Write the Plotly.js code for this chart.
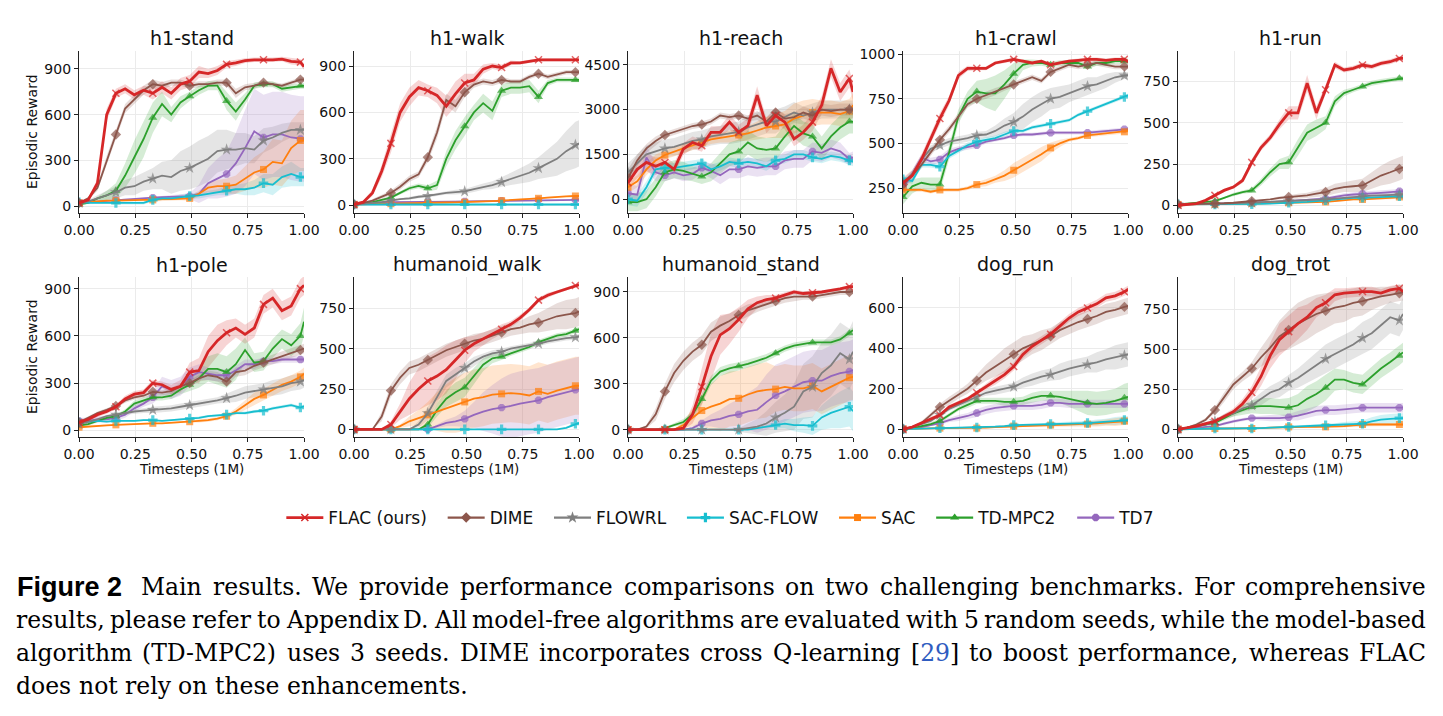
<!DOCTYPE html>
<html>
<head>
<meta charset="utf-8">
<script src="https://cdn.plot.ly/plotly-3.0.1.min.js"></script>
<style>
  html, body { margin: 0; padding: 0; background: #fff; }
  #chart { width: 1443px; height: 716px; }
</style>
</head>
<body>
<div id="chart"></div>
<script>
// ---------------- DATA ----------------
const X = [0,0.041,0.082,0.123,0.164,0.205,0.246,0.287,0.328,0.369,0.41,0.451,0.492,0.533,0.574,0.615,0.656,0.697,0.738,0.779,0.82,0.861,0.902,0.943,0.984,1];
const SERIES = ['FLAC (ours)','DIME','FLOWRL','SAC-FLOW','SAC','TD-MPC2','TD7'];
const TASKS = ['h1-stand','h1-walk','h1-reach','h1-crawl','h1-run','h1-pole','humanoid_walk','humanoid_stand','dog_run','dog_trot'];
const X_TICKS = [0,0.25,0.5,0.75,1];
const X_TICK_LABELS = ['0.00','0.25','0.50','0.75','1.00'];
const Y_TICKS = [[0,300,600,900],[0,300,600,900],[0,1500,3000,4500],[250,500,750,1000],[0,250,500,750],
                 [0,300,600,900],[0,250,500,750],[0,300,600,900],[0,200,400,600],[0,250,500,750]];

// series order in each task: FLAC, DIME, FLOWRL, SAC-FLOW, SAC, TD-MPC2, TD7
const h1_stand = [
 [20,40,150,600,740,770,730,760,740,780,740,800,820,880,870,890,930,940,955,960,960,960,965,950,945,915],
 [20,50,120,300,470,640,700,760,800,790,810,810,790,800,800,810,810,740,780,790,810,800,790,810,830,830],
 [20,30,50,70,90,120,130,160,180,200,190,230,250,280,310,360,370,370,380,370,430,450,480,500,500,500],
 [25,20,20,20,20,20,20,20,40,50,50,60,65,70,80,90,100,110,110,120,150,140,190,210,190,190],
 [20,25,30,35,35,38,40,40,40,45,45,48,50,80,120,130,130,140,180,220,240,290,280,380,430,430],
 [10,20,50,70,100,200,320,440,580,670,600,680,720,760,790,790,690,620,700,790,800,800,770,780,790,790],
 [20,25,30,35,40,42,45,50,55,58,60,62,65,80,150,180,210,280,380,490,450,470,470,450,440,440]];
const h1_stand_sd = [
 [5,10,30,40,30,30,30,30,40,40,40,40,40,40,30,30,20,20,15,15,15,15,15,20,20,20],
 [5,10,20,30,30,30,30,30,30,25,20,20,20,20,20,20,20,30,20,20,15,15,15,15,15,15],
 [5,10,20,30,40,50,60,60,70,90,110,130,140,150,150,140,130,110,100,90,80,70,60,50,50,50],
 [5,5,5,5,10,10,10,10,10,10,10,15,15,20,20,20,30,30,40,50,60,70,70,80,60,60],
 [5,5,5,5,5,5,5,5,10,10,10,10,15,20,30,40,50,60,80,100,120,150,150,180,200,200],
 [5,5,10,30,50,80,110,120,100,80,50,40,30,30,30,30,60,60,40,20,20,20,20,20,20,20],
 [5,5,5,5,5,5,5,5,5,10,10,15,20,60,100,130,150,200,250,280,280,280,280,280,280,280]];

const h1_walk = [
 [5,20,80,220,400,600,700,760,740,710,640,720,790,810,880,900,890,920,920,930,940,940,940,940,940,940],
 [5,15,30,55,80,120,170,200,310,470,680,640,730,780,800,790,810,800,800,830,850,830,845,860,860,860],
 [5,10,15,20,30,40,45,55,60,70,80,85,90,105,120,130,150,170,190,210,240,270,300,350,390,400],
 [5,5,5,5,5,5,5,5,5,5,5,5,5,5,5,5,5,5,5,5,5,5,5,5,5,5],
 [5,8,10,10,10,12,12,14,15,16,18,19,20,22,24,27,30,33,37,40,45,50,55,58,60,60],
 [5,10,20,35,50,80,110,125,110,130,300,420,510,600,660,610,740,760,760,770,700,790,810,810,810,810],
 [5,10,15,18,20,20,20,20,20,22,23,24,25,26,28,29,30,32,33,34,35,35,35,35,35,35]];
const h1_walk_sd = [
 [5,10,20,40,60,60,60,50,40,50,70,80,60,40,30,20,20,15,10,10,10,10,10,10,10,10],
 [5,5,10,10,15,20,20,20,30,40,40,40,30,20,20,20,20,15,15,15,15,15,15,15,15,15],
 [3,5,5,5,5,5,10,10,10,10,10,15,15,20,20,25,30,40,50,60,70,90,110,130,150,150],
 [3,3,3,3,3,3,3,3,3,3,3,3,3,3,3,3,3,3,3,3,3,3,3,3,3,3],
 [5,5,5,5,5,5,5,5,5,5,5,5,5,5,5,5,5,5,5,5,5,5,5,5,5,5],
 [5,5,5,10,10,10,15,15,20,30,50,60,60,50,60,60,40,40,40,40,40,20,15,15,15,15],
 [5,5,5,5,5,5,5,5,5,5,5,5,5,5,5,5,5,5,5,5,5,5,5,5,5,5]];

const h1_reach = [
 [550,1000,1230,1100,1230,1000,1680,1900,1790,2240,2240,2580,2240,2460,3480,2460,2800,2580,2020,2240,2580,3150,4380,3590,4040,3590],
 [700,1300,1700,1950,2150,2250,2350,2450,2500,2600,2800,2750,2800,2700,2800,2600,2900,2700,2750,2900,2800,3000,2950,3000,3000,3000],
 [900,1200,1500,1600,1700,1750,1850,1950,2000,2100,2150,2200,2250,2400,2500,2600,2600,2750,2900,2800,2900,3000,3000,3000,3000,3000],
 [0,-50,400,1000,1050,1050,1100,1150,1200,1000,1100,1250,1200,1250,1200,1100,1300,1350,1500,1500,1400,1350,1450,1400,1300,1250],
 [400,600,1000,1300,1480,1600,1700,1800,1900,2000,2050,2100,2150,2200,2300,2400,2450,2500,2700,2800,2900,2900,2900,2850,2950,3150],
 [-100,-100,0,400,900,1000,950,850,760,900,1200,1500,1600,1900,1700,1650,1700,2100,2450,2200,2100,1700,2100,2400,2600,2600],
 [200,150,1400,900,800,900,800,850,1050,950,800,1000,1000,1100,1050,1100,1100,1300,1350,1350,1600,1550,1700,1600,1350,1400]];
const h1_reach_sd = [
 [200,300,300,300,200,200,200,200,200,200,200,250,250,250,300,250,250,250,250,250,300,300,300,300,300,300],
 [300,200,150,150,100,100,100,100,100,100,100,100,100,100,150,150,150,150,150,200,200,200,200,200,200,200],
 [300,300,300,300,300,300,300,300,300,300,300,350,350,400,400,400,400,350,350,300,300,300,300,300,300,300],
 [200,200,200,150,150,150,150,150,150,150,150,150,150,150,150,150,150,150,150,150,150,150,150,150,150,150],
 [200,200,200,200,150,150,150,150,150,150,150,200,200,250,300,350,400,450,500,500,450,400,400,400,400,400],
 [300,300,300,300,300,300,300,250,250,300,350,400,400,400,400,400,400,400,400,400,400,400,400,400,400,400],
 [300,300,400,300,200,200,200,200,200,250,300,300,300,300,300,300,300,300,300,300,300,300,300,300,200,200]];

const h1_crawl = [
 [280,320,410,530,640,740,880,920,920,920,950,960,970,960,950,960,940,950,960,965,970,970,965,970,970,960],
 [270,320,380,450,520,580,650,720,750,770,790,810,830,850,870,850,900,920,940,930,940,950,940,930,930,930],
 [280,330,410,470,490,510,520,530,545,550,570,600,620,650,690,720,750,760,780,800,820,830,850,870,880,880],
 [300,290,380,380,370,430,460,490,510,520,530,550,570,570,590,600,610,620,630,660,680,700,720,740,760,770],
 [240,240,240,230,240,240,240,250,270,280,300,320,350,380,410,440,475,500,520,530,545,550,555,560,565,570],
 [200,260,280,270,270,450,650,750,790,780,780,830,890,940,950,950,940,950,950,950,930,950,950,960,960,960],
 [250,330,420,400,410,450,470,480,490,510,520,530,545,550,550,555,560,560,560,560,560,565,570,575,580,580]];
const h1_crawl_sd = [
 [30,30,30,30,30,25,20,15,10,10,10,10,10,10,10,10,10,10,10,10,10,10,10,10,10,10],
 [20,20,20,20,20,20,20,20,20,20,20,15,15,15,15,15,15,15,15,15,15,15,15,15,15,15],
 [20,20,20,20,20,20,20,20,20,20,30,40,50,70,70,70,60,60,50,50,50,40,40,30,20,20],
 [15,15,15,15,15,15,15,15,15,15,15,15,10,10,10,10,10,10,10,10,10,10,10,10,10,10],
 [10,10,10,10,10,10,10,10,15,20,20,30,40,40,40,40,30,20,10,10,10,10,10,10,10,10],
 [40,40,30,40,40,40,40,40,60,80,100,80,60,30,20,15,15,15,15,15,15,15,15,15,15,15],
 [20,20,20,20,20,20,15,15,15,10,10,10,10,10,10,10,10,10,10,10,10,10,10,10,10,10]];

const h1_run = [
 [0,5,10,30,60,90,110,150,260,350,410,490,560,560,740,560,700,850,820,830,850,840,860,870,890,890],
 [5,5,8,10,10,12,15,20,25,30,35,45,50,55,60,70,80,100,110,115,120,150,180,200,220,230],
 [5,5,5,6,8,10,12,14,16,18,20,22,25,28,30,33,36,40,45,50,55,58,60,62,65,65],
 [5,5,5,5,5,5,5,6,6,8,10,12,15,18,20,25,30,35,40,45,45,48,50,52,55,55],
 [5,5,5,5,5,5,6,8,10,12,13,14,15,16,17,18,20,25,30,35,35,40,42,45,50,50],
 [5,10,15,20,25,45,65,80,90,140,200,250,260,350,440,470,500,630,680,700,720,740,750,760,770,770],
 [5,5,6,8,10,11,12,14,15,17,19,22,25,28,32,36,40,50,60,65,70,72,75,80,85,85]];
const h1_run_sd = [
 [5,5,5,10,10,10,10,15,20,20,20,30,40,40,50,40,30,20,15,15,15,15,15,15,15,15],
 [3,3,3,3,3,3,3,5,5,5,5,10,10,15,15,20,25,30,30,35,40,50,60,70,70,70],
 [3,3,3,3,3,3,3,3,5,5,5,5,5,5,8,8,8,10,10,10,12,12,12,15,15,15],
 [3,3,3,3,3,3,3,3,3,3,3,3,5,5,5,5,5,5,5,5,5,5,5,5,5,5],
 [3,3,3,3,3,3,3,3,3,3,3,3,3,3,5,5,5,5,5,5,5,5,5,8,8,8],
 [3,3,3,5,5,5,10,10,15,20,25,30,40,50,50,50,40,30,20,15,15,15,15,15,15,15],
 [3,3,3,3,3,3,3,3,5,5,5,5,5,8,8,8,10,10,12,15,15,15,15,15,15,15]];

const h1_pole = [
 [50,70,100,120,150,200,230,240,300,290,260,280,370,380,500,570,620,650,610,650,800,840,760,790,900,920],
 [50,80,110,130,155,190,210,220,245,240,250,280,300,330,350,340,310,370,380,410,430,450,470,490,510,520],
 [40,55,70,90,100,110,120,125,130,135,140,150,160,170,180,190,205,220,240,250,260,270,280,300,310,320],
 [50,55,60,55,60,60,60,65,65,60,65,70,75,80,90,95,100,110,110,120,125,140,150,160,145,155],
 [20,25,30,32,35,38,40,42,45,45,48,50,55,60,65,75,90,120,160,200,225,260,290,310,340,360],
 [30,40,60,80,90,120,170,190,210,210,220,260,290,330,390,390,370,420,510,430,440,520,580,540,600,690],
 [60,60,70,70,80,100,140,170,210,280,260,280,340,370,360,350,350,380,420,420,440,440,450,450,450,450]];
const h1_pole_sd = [
 [15,15,15,15,15,20,20,20,20,20,30,40,60,80,100,100,80,60,60,60,60,60,60,60,60,60],
 [10,10,10,10,10,15,15,15,15,15,20,20,20,20,30,30,30,30,30,30,30,30,30,30,30,30],
 [10,10,10,10,10,10,15,15,20,20,20,20,20,20,20,20,30,40,40,40,40,50,50,50,50,50],
 [5,5,5,5,5,5,5,5,5,5,5,5,8,8,8,8,8,8,10,10,10,10,10,10,10,10],
 [5,5,5,5,5,5,5,5,5,5,5,5,5,10,10,10,10,20,30,40,40,40,40,40,40,40],
 [10,10,10,10,10,15,20,20,20,20,20,30,40,60,80,100,100,100,80,60,60,60,60,70,80,90],
 [20,20,20,20,20,20,20,20,40,60,60,60,60,50,40,40,40,30,30,30,20,20,20,20,20,20]];

const humanoid_walk = [
 [0,0,0,0,30,110,190,250,300,330,370,430,490,530,560,590,620,650,690,740,800,830,850,870,890,895],
 [0,0,0,80,240,320,380,400,430,460,490,510,530,550,560,580,600,620,630,650,660,680,700,710,720,730],
 [0,0,0,0,0,0,0,30,100,200,300,340,380,420,450,470,480,500,510,520,530,545,555,565,570,575],
 [0,0,0,0,0,0,0,0,0,0,0,0,0,0,0,0,0,0,0,0,0,0,0,10,35,40],
 [0,0,0,0,0,20,50,70,90,110,130,150,170,190,200,215,220,225,220,210,235,220,240,255,270,270],
 [0,0,0,0,0,0,0,0,30,120,190,230,260,330,400,440,450,470,490,510,540,560,580,590,610,620],
 [0,0,0,0,0,0,0,0,0,20,40,50,65,90,110,125,135,145,160,170,180,200,215,230,245,250]];
const humanoid_walk_sd = [
 [0,0,0,0,20,50,100,130,150,150,150,120,80,50,40,30,30,20,20,15,15,15,10,10,10,10],
 [0,0,0,30,40,40,40,40,40,40,40,40,40,40,40,40,40,40,40,50,60,70,80,90,90,90],
 [0,0,0,0,0,0,0,20,40,40,40,40,30,30,20,20,20,15,15,15,15,15,15,15,15,15],
 [0,0,0,0,0,0,0,0,0,0,0,0,0,0,0,0,0,0,0,0,0,0,0,5,10,10],
 [0,0,0,0,0,10,30,50,80,120,150,170,180,180,180,180,180,180,180,180,180,180,180,180,180,180],
 [0,0,0,0,0,0,0,0,20,40,50,60,60,50,40,30,20,15,15,15,15,15,15,15,15,15],
 [0,0,0,0,0,0,0,0,0,10,20,30,50,80,120,150,180,200,200,200,200,200,200,200,200,200]];

const humanoid_stand = [
 [0,0,0,0,0,0,10,100,280,480,620,660,720,790,830,850,860,880,900,890,895,900,910,920,935,935],
 [0,0,20,100,250,370,450,510,555,640,680,710,750,780,800,820,840,860,870,870,870,880,890,900,900,905],
 [0,0,0,0,0,0,0,0,0,0,0,0,0,10,20,40,80,110,150,250,280,370,420,500,460,510],
 [0,0,0,0,0,0,0,0,0,0,0,0,0,0,10,20,30,40,30,30,25,80,110,130,150,120],
 [0,0,0,0,0,0,30,80,125,150,170,200,205,230,250,260,265,280,270,270,285,250,280,310,340,345],
 [0,0,0,0,10,30,50,100,200,320,380,400,415,430,450,470,500,530,550,560,570,570,570,590,630,650],
 [0,0,0,0,0,0,0,10,40,60,70,90,100,120,130,180,225,250,280,310,320,320,350,370,380,390]];
const humanoid_stand_sd = [
 [0,0,0,0,0,0,10,60,120,150,130,100,80,60,40,30,20,20,15,15,15,10,10,10,10,10],
 [0,0,10,40,50,60,60,60,60,60,60,50,40,40,30,30,30,30,30,20,20,20,20,20,20,20],
 [0,0,0,0,0,0,0,0,0,0,0,5,10,30,50,80,100,120,150,180,200,200,200,200,200,200],
 [0,0,0,0,0,0,0,0,0,0,0,0,0,0,0,10,20,30,40,50,60,80,100,120,130,130],
 [0,0,0,0,0,0,20,60,100,150,180,180,180,180,180,180,150,150,150,150,150,150,150,150,150,150],
 [0,0,0,0,5,10,20,20,30,30,30,30,25,25,25,25,25,20,20,20,20,20,20,20,20,20],
 [0,0,0,0,0,0,0,10,20,40,60,80,100,120,150,180,200,200,200,200,200,200,200,200,200,200]];

const dog_run = [
 [0,10,30,50,70,110,130,150,180,210,240,270,310,370,410,440,470,510,550,580,600,620,650,660,680,690],
 [0,10,30,70,110,140,170,200,240,280,310,340,370,400,420,440,460,490,510,530,545,560,580,590,605,610],
 [0,10,25,40,70,100,120,140,160,180,190,200,210,230,245,260,270,285,300,310,320,330,345,355,365,370],
 [0,2,3,4,5,6,7,7,8,10,12,15,20,21,22,23,25,27,28,29,30,33,36,40,45,45],
 [0,2,3,4,5,5,5,5,5,8,10,12,15,16,17,18,20,21,22,23,25,28,32,36,40,40],
 [0,5,15,25,40,70,100,120,140,140,140,135,135,140,155,165,165,160,150,140,130,125,130,140,155,160],
 [0,5,10,20,30,45,55,65,80,95,105,110,115,115,115,120,130,130,125,125,125,125,125,125,125,125]];
const dog_run_sd = [
 [5,5,5,10,10,10,10,10,10,15,20,20,20,20,20,20,20,20,20,20,20,20,20,20,20,20],
 [5,5,10,10,15,20,20,25,30,40,50,60,60,60,50,50,40,40,40,40,40,40,40,40,40,40],
 [5,5,5,5,10,10,10,10,10,15,20,20,20,25,30,30,30,40,40,40,40,50,50,60,60,60],
 [2,2,2,2,3,3,3,3,3,5,5,5,5,5,5,5,8,8,10,10,12,15,15,20,20,20],
 [2,2,2,2,3,3,3,3,3,5,5,5,5,5,5,5,8,8,10,10,12,15,15,20,20,20],
 [5,5,5,10,10,10,10,15,15,15,15,20,20,20,25,25,25,30,40,50,60,60,60,60,70,70],
 [5,5,5,5,10,10,15,15,20,20,20,20,20,20,20,20,20,20,20,20,20,20,20,20,20,20]];

const dog_trot = [
 [0,10,20,35,50,80,110,160,230,330,460,560,610,660,700,760,790,840,850,855,860,860,850,870,880,860],
 [0,10,30,60,120,200,280,330,380,450,510,580,620,660,690,720,740,760,770,790,800,815,830,840,850,855],
 [0,10,20,30,50,80,100,130,150,190,230,250,290,320,360,400,440,470,500,530,570,600,650,700,680,720],
 [0,2,3,4,5,5,5,5,5,8,10,12,15,17,20,22,25,28,30,33,35,50,60,65,70,70],
 [0,2,3,4,5,5,5,5,5,8,10,12,15,15,15,15,15,18,20,25,30,30,30,30,30,30],
 [0,10,20,30,40,70,100,120,140,145,145,140,135,150,190,220,260,310,310,290,280,330,380,420,460,480],
 [0,5,10,15,20,35,50,60,70,70,70,70,75,85,100,115,120,120,125,130,135,135,135,135,135,135]];
const dog_trot_sd = [
 [5,5,5,10,10,15,20,30,40,60,80,100,100,100,80,60,50,40,30,30,30,30,25,25,25,25],
 [5,5,10,10,20,30,30,30,40,60,80,100,120,130,130,120,110,100,100,90,90,70,60,50,50,50],
 [5,5,5,5,10,15,20,20,30,40,40,50,50,60,70,80,90,90,90,90,100,100,100,100,100,100],
 [2,2,2,2,3,3,3,3,3,5,5,5,5,5,8,8,10,10,15,15,20,25,30,30,30,30],
 [2,2,2,2,3,3,3,3,3,5,5,5,5,5,5,5,8,8,8,8,10,10,10,10,10,10],
 [5,5,5,10,10,15,20,30,40,50,50,50,60,70,80,80,80,70,60,60,60,60,60,60,60,60],
 [5,5,5,5,5,10,10,10,10,15,20,20,20,30,30,30,30,30,30,30,30,30,30,30,30,30]];

const MEANS = [h1_stand,h1_walk,h1_reach,h1_crawl,h1_run,h1_pole,humanoid_walk,humanoid_stand,dog_run,dog_trot];
const SDS = [h1_stand_sd,h1_walk_sd,h1_reach_sd,h1_crawl_sd,h1_run_sd,h1_pole_sd,humanoid_walk_sd,humanoid_stand_sd,dog_run_sd,dog_trot_sd];

const CAPTION_HEAD = 'Figure 2';
const CAPTION_LINES = [
  'Main results. We provide performance comparisons on two challenging benchmarks. For comprehensive',
  'results, please refer to Appendix D. All model-free algorithms are evaluated with 5 random seeds, while the model-based',
  'algorithm (TD-MPC2) uses 3 seeds. DIME incorporates cross Q-learning [29] to boost performance, whereas FLAC',
  'does not rely on these enhancements.'
];

// ---------------- STYLE ----------------
const W = 1443, H = 716;
const COLORS = ['#d62728','#8c564b','#7f7f7f','#17becf','#ff7f0e','#2ca02c','#9467bd'];
const FILLS  = ['rgba(214,39,40,0.2)','rgba(140,86,75,0.2)','rgba(127,127,127,0.2)','rgba(23,190,207,0.2)','rgba(255,127,14,0.2)','rgba(44,160,44,0.2)','rgba(148,103,189,0.2)'];
const SYMBOLS = ['x-thin-open','diamond','star','cross','square','triangle-up','octagon'];
const MSIZE = [7,8,9,8,7,8,8];
const LWIDTH = [2.8,1.8,1.8,1.8,1.8,1.8,1.8];
const Y_RANGES = [[-46,1018],[-50,997],[-461,4960],[111,1017],[-47,935],[-42,974],[-47,943],[-48,998],[-39,753],[-48,951]];
const COL_LEFT = [79,354,628,903,1178];
const PLOT_W = 225;
const ROWS = [[51,213],[277,437]];
const TXT = '#111111';
const FONT = 'DejaVu Sans, sans-serif';
const NB = '\u00a0\u00a0';

const traces = [];
const layout = {
  width: W, height: H, autosize: false,
  margin: {l:0, r:0, t:0, b:0},
  paper_bgcolor: '#ffffff', plot_bgcolor: '#ffffff',
  showlegend: true,
  legend: {orientation:'h', x:0.503, xanchor:'center', y:1-518/H, yanchor:'middle',
           font:{family:FONT, size:17, color:TXT}, traceorder:'normal', itemwidth:37,
           bgcolor:'rgba(0,0,0,0)'},
  annotations: [],
  font: {family: FONT, color: TXT}
};

TASKS.forEach((task, k) => {
  const row = k < 5 ? 0 : 1, col = k % 5;
  const n = k + 1, xs = n === 1 ? '' : String(n);
  const xl = COL_LEFT[col];
  const [top, bot] = ROWS[row];
  layout['xaxis' + xs] = {
    domain: [xl / W, (xl + PLOT_W) / W], range: [0, 1], anchor: 'y' + xs,
    tickvals: X_TICKS, ticktext: X_TICK_LABELS,
    showline: true, linecolor: '#222', linewidth: 1.1, ticks: 'outside', ticklen: 4, tickcolor: '#222',
    showgrid: true, gridcolor: '#ebebeb', gridwidth: 1, zeroline: false,
    tickfont: {family: FONT, size: 14, color: TXT}, fixedrange: true
  };
  layout['yaxis' + xs] = {
    domain: [1 - bot / H, 1 - top / H], range: Y_RANGES[k], anchor: 'x' + xs,
    tickvals: Y_TICKS[k],
    showline: true, linecolor: '#222', linewidth: 1.1, ticks: 'outside', ticklen: 4, tickcolor: '#222',
    showgrid: true, gridcolor: '#ebebeb', gridwidth: 1, zeroline: false,
    tickfont: {family: FONT, size: 14, color: TXT}, fixedrange: true
  };
  layout.annotations.push({xref:'paper', yref:'paper', x:(xl + PLOT_W/2)/W, y:1 - (row ? 265 : 38)/H,
    xanchor:'center', yanchor:'middle', showarrow:false, text: task,
    font:{family:FONT, size:19, color:TXT}});
  if (row === 1) {
    layout.annotations.push({xref:'paper', yref:'paper', x:(xl + PLOT_W/2)/W, y:1 - 469/H,
      xanchor:'center', yanchor:'middle', showarrow:false, text:'Timesteps (1M)',
      font:{family:FONT, size:13.5, color:TXT}});
  }
  if (col === 0) {
    layout.annotations.push({xref:'paper', yref:'paper', x:32/W, y:1 - (top + bot)/2/H,
      xanchor:'center', yanchor:'middle', showarrow:false, text:'Episodic Reward', textangle:-90,
      font:{family:FONT, size:14, color:TXT}});
  }
  const M = MEANS[k], S = SDS[k];
  for (let s = 0; s < SERIES.length; s++) {
    const hi = M[s].map((v, i) => v + S[s][i]);
    const lo = M[s].map((v, i) => v - S[s][i]);
    traces.push({x: X.concat(X.slice().reverse()), y: hi.concat(lo.slice().reverse()),
      xaxis:'x'+xs, yaxis:'y'+xs, type:'scatter', mode:'lines', fill:'toself',
      fillcolor: FILLS[s], line:{width:0, color:'rgba(0,0,0,0)'}, hoverinfo:'skip', showlegend:false});
  }
  for (let s = SERIES.length - 1; s >= 0; s--) {
    traces.push({x: X, y: M[s], xaxis:'x'+xs, yaxis:'y'+xs, type:'scatter', mode:'lines+markers',
      name: SERIES[s], showlegend:false, legendgroup: SERIES[s],
      line:{color:COLORS[s], width:LWIDTH[s]},
      marker:{symbol:SYMBOLS[s], color:COLORS[s], size: X.map((_, i) => i % 4 === 0 ? MSIZE[s] : 0),
              line:{color:COLORS[s], width: s === 0 ? 1.5 : 0}}});
  }
});
// legend entries
for (let s = 0; s < SERIES.length; s++) {
  traces.push({x:[null], y:[null], xaxis:'x', yaxis:'y', type:'scatter', mode:'lines+markers',
    name: SERIES[s] + NB, legendgroup: SERIES[s], showlegend:true, legendrank: s + 1,
    line:{color:COLORS[s], width: s === 0 ? 2.8 : 2.2},
    marker:{symbol:SYMBOLS[s], color:COLORS[s], size:MSIZE[s], line:{color:COLORS[s], width: s === 0 ? 1.5 : 0}}});
}

// ---------------- CAPTION (justified) ----------------
const SERIF = 'DejaVu Serif';
const SERIF_SIZE = 23.5;
const ctx = document.createElement('canvas').getContext('2d');
function tw(t, font) { ctx.font = font; return ctx.measureText(t).width; }
const LINE_Y = [587, 620, 653, 686];
layout.annotations.push({xref:'paper', yref:'paper', x:15/W, y:1 - LINE_Y[0]/H, xanchor:'left', yanchor:'middle',
  showarrow:false, text:'<b>' + CAPTION_HEAD + '</b>', font:{family:'Liberation Sans, Arial, sans-serif', size:27, color:'#000'}});
CAPTION_LINES.forEach((line, li) => {
  const words = line.split(' ');
  const font = SERIF_SIZE + 'px "' + SERIF + '"';
  const widths = words.map(w => tw(w, font));
  const x0 = li === 0 ? 141 : 16, x1 = 1426;
  const total = widths.reduce((a, b) => a + b, 0);
  const justify = li < CAPTION_LINES.length - 1;
  const gap = justify ? (x1 - x0 - total) / (words.length - 1) : tw(' ', font);
  let x = x0;
  words.forEach((w, i) => {
    let txt = w;
    if (w === '[29]') txt = '[<span style="color:#2f5cc0">29</span>]';
    layout.annotations.push({xref:'paper', yref:'paper', x:(x - 2)/W, y:1 - LINE_Y[li]/H, xanchor:'left', yanchor:'middle',
      showarrow:false, text: txt, font:{family:SERIF, size:SERIF_SIZE, color:'#000'}});
    x += widths[i] + gap;
  });
});

Plotly.newPlot('chart', traces, layout, {staticPlot:true, displayModeBar:false});
</script>
</body>
</html>
